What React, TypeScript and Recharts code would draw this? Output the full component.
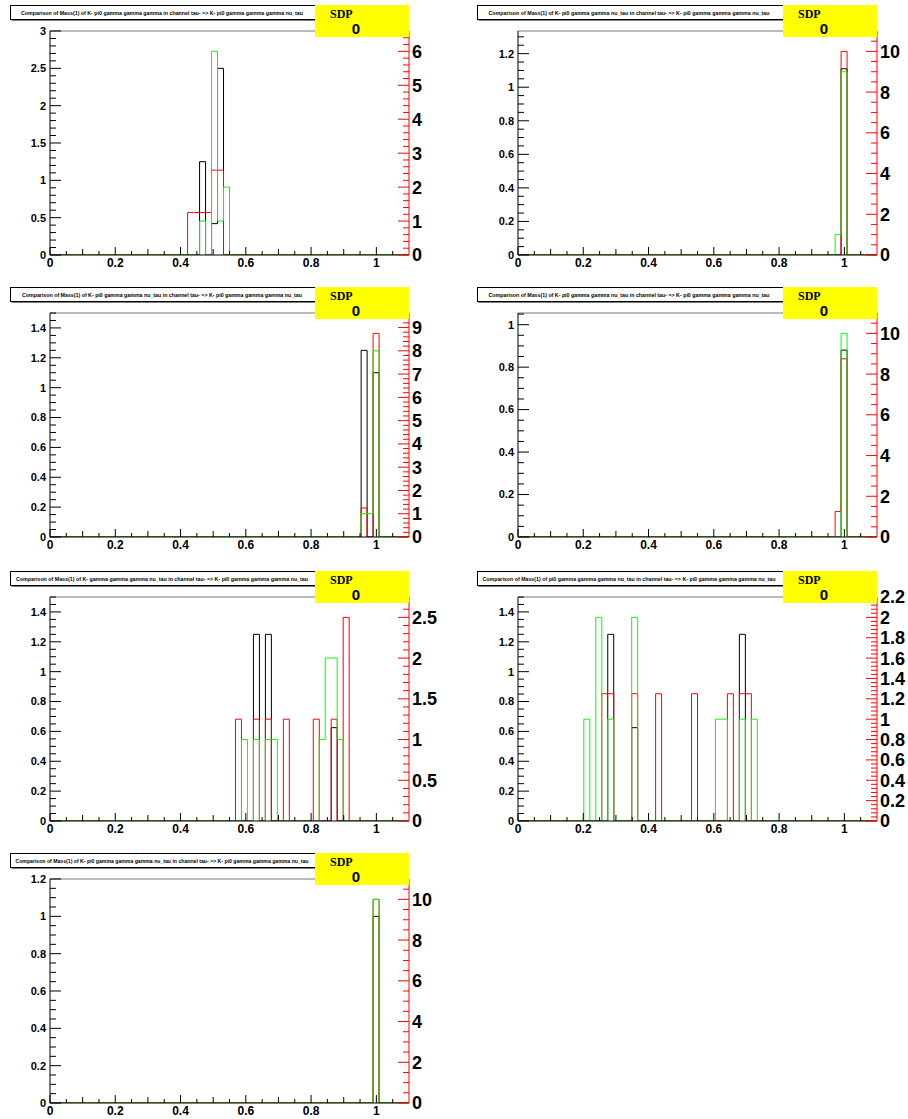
import React from 'react';
import { ComposedChart, Line, XAxis, YAxis, ReferenceLine } from 'recharts';

const NBINS = 60;
const XMAX = 1.1;
const BIN_W = XMAX / NBINS;

// x axis labels, same on every pad
const xLabels = [0, 0.2, 0.4, 0.6, 0.8, 1];

// histogram contents as [bin, value]
// black is read on the left axis, red and green on the right (red) axis
const p1Black = [[25, 1.25], [27, 0.42], [28, 2.5]];
const p1Red = [[23, 1.25], [24, 1.25], [25, 1.25], [26, 1.25], [27, 2.5], [28, 2.5]];
const p1Green = [[25, 1], [27, 6], [28, 1], [29, 2]];

const p2Black = [[54, 1.11]];
const p2Red = [[54, 10]];
const p2Green = [[53, 1], [54, 9]];

const p3Black = [[52, 1.25], [54, 1.1]];
const p3Red = [[52, 1.25], [54, 8.75]];
const p3Green = [[52, 1], [53, 1], [54, 8]];

const p4Black = [[54, 0.88]];
const p4Red = [[53, 1.25], [54, 8.75]];
const p4Green = [[54, 10]];

const p5Black = [[34, 1.25], [36, 1.25], [47, 0.625]];
const p5Red = [[31, 1.25], [34, 1.25], [36, 1.25], [39, 1.25], [44, 1.25], [47, 1.25], [49, 2.5]];
const p5Green = [[32, 1], [34, 1], [36, 1], [37, 1], [45, 1], [46, 2], [47, 2], [48, 1]];

const p6Black = [[15, 1.25], [19, 0.625], [37, 1.25]];
const p6Red = [[14, 1.25], [15, 1.25], [19, 1.25], [23, 1.25], [29, 1.25], [35, 1.25], [37, 1.25], [38, 1.25]];
const p6Green = [[11, 1], [13, 2], [15, 1], [19, 2], [33, 1], [34, 1], [37, 1], [39, 1]];

const p7Black = [[54, 1]];
const p7Red = [[54, 10]];
const p7Green = [[54, 10]];

// axis labels per pad
const leftLabels = [
  [0, 0.5, 1, 1.5, 2, 2.5, 3],
  [0, 0.2, 0.4, 0.6, 0.8, 1, 1.2],
  [0, 0.2, 0.4, 0.6, 0.8, 1, 1.2, 1.4],
  [0, 0.2, 0.4, 0.6, 0.8, 1],
  [0, 0.2, 0.4, 0.6, 0.8, 1, 1.2, 1.4],
  [0, 0.2, 0.4, 0.6, 0.8, 1, 1.2, 1.4],
  [0, 0.2, 0.4, 0.6, 0.8, 1, 1.2],
];
const rightLabels = [
  [0, 1, 2, 3, 4, 5, 6],
  [0, 2, 4, 6, 8, 10],
  [0, 1, 2, 3, 4, 5, 6, 7, 8, 9],
  [0, 2, 4, 6, 8, 10],
  [0, 0.5, 1, 1.5, 2, 2.5],
  [0, 0.2, 0.4, 0.6, 0.8, 1, 1.2, 1.4, 1.6, 1.8, 2, 2.2],
  [0, 2, 4, 6, 8, 10],
];
const leftMax = [3, 1.335, 1.5, 1.055, 1.5, 1.5, 1.2];
const rightMax = [6.6, 11, 9.625, 11, 2.75, 2.2, 11];
const leftMinorStep = [0.1, 0.05, 0.05, 0.05, 0.05, 0.05, 0.05];
const rightMinorStep = [0.2, 0.5, 0.2, 0.5, 0.1, 0.04, 0.5];

const titles = [
  'Comparison of Mass(1) of K- pi0 gamma gamma gamma in channel tau- => K- pi0 gamma gamma gamma nu_tau',
  'Comparison of Mass(1) of K- pi0 gamma gamma nu_tau in channel tau- => K- pi0 gamma gamma gamma nu_tau',
  'Comparison of Mass(1) of K- pi0 gamma gamma nu_tau in channel tau- => K- pi0 gamma gamma gamma nu_tau',
  'Comparison of Mass(1) of K- pi0 gamma gamma nu_tau in channel tau- => K- pi0 gamma gamma gamma nu_tau',
  'Comparison of Mass(1) of K- gamma gamma gamma nu_tau in channel tau- => K- pi0 gamma gamma gamma nu_tau',
  'Comparison of Mass(1) of pi0 gamma gamma gamma nu_tau in channel tau- => K- pi0 gamma gamma gamma nu_tau',
  'Comparison of Mass(1) of K- pi0 gamma gamma gamma nu_tau in channel tau- => K- pi0 gamma gamma gamma nu_tau',
];
// rendered width of each title line (px)
const titleWidth = [282, 281, 280, 281, 292, 293, 293];
const sdpValue = '0';

const hists = [
  [p1Black, p1Red, p1Green],
  [p2Black, p2Red, p2Green],
  [p3Black, p3Red, p3Green],
  [p4Black, p4Red, p4Green],
  [p5Black, p5Red, p5Green],
  [p6Black, p6Red, p6Green],
  [p7Black, p7Red, p7Green],
];

const CELL_W = 454;
const CELL_H = 282;
const cellPos = [[0, 0], [454, 0], [0, 282], [454, 282], [0, 566], [454, 566], [0, 848]];
const FONT = '"Liberation Sans", Arial, Helvetica, sans-serif';

function fillBins(entries: number[][]) {
  const h = new Array(NBINS).fill(0);
  entries.forEach(([b, v]) => (h[b] = v));
  return h;
}

function buildRows(black: number[][], red: number[][], green: number[][]) {
  const b = fillBins(black), r = fillBins(red), g = fillBins(green);
  const rows = [];
  for (let i = 0; i <= NBINS; i++) {
    const k = Math.min(i, NBINS - 1);
    rows.push({ x: i * BIN_W, black: b[k], red: r[k], green: g[k] });
  }
  return rows;
}

function minorTicks(max: number, step: number) {
  const out: number[] = [];
  for (let i = 0; i * step <= max + 1e-9; i++) out.push(Math.round(i * step * 1000) / 1000);
  return out;
}

const findMajor = (v: number, majors: number[]) => majors.find((m) => Math.abs(m - v) < 1e-6);

const xTicks = minorTicks(1.05, 0.05);

function XTick(props: any) {
  const { x, y, payload } = props;
  const v = payload.value;
  const major = findMajor(v, xLabels);
  const tenth = Math.abs(v * 10 - Math.round(v * 10)) < 1e-6;
  const len = major !== undefined ? 8 : tenth ? 6 : 4;
  return (
    <g>
      <line x1={x} x2={x} y1={y} y2={y - len} stroke="#000" />
      {major !== undefined && (
        <text x={x} y={y + 11.5} textAnchor="middle" fontSize={12} fontWeight="bold" fontFamily={FONT} fill="#000">
          {String(major)}
        </text>
      )}
    </g>
  );
}

function makeLeftTick(majors: number[]) {
  return (props: any) => {
    const { x, y, payload } = props;
    const major = findMajor(payload.value, majors);
    return (
      <g>
        <line x1={x} x2={x + (major !== undefined ? 11 : 6)} y1={y} y2={y} stroke="#000" />
        {major !== undefined && (
          <text x={x - 4} y={y} dy="0.35em" textAnchor="end" fontSize={11} fontWeight="bold" fontFamily={FONT} fill="#000">
            {String(major)}
          </text>
        )}
      </g>
    );
  };
}

function makeRightTick(majors: number[]) {
  return (props: any) => {
    const { x, y, payload } = props;
    const major = findMajor(payload.value, majors);
    return (
      <g>
        <line x1={x} x2={x - (major !== undefined ? 11 : 6)} y1={y} y2={y} stroke="#ff0000" />
        {major !== undefined && (
          <text x={x + 3} y={y} dy="0.36em" textAnchor="start" fontSize={18} fontWeight="bold" fontFamily={FONT} fill="#000">
            {String(major)}
          </text>
        )}
      </g>
    );
  };
}

function Pad({ idx }: { idx: number }) {
  const [cx, cy] = cellPos[idx];
  const leftCol = cx === 0;
  const leftW = leftCol ? 50 : 64;
  const rightW = leftCol ? 45 : 31;
  const [black, red, green] = hists[idx];
  const rows = buildRows(black, red, green);
  const titleX = leftCol ? 10 : 23;
  const sdpX = leftCol ? 315 : 329;

  return (
    <div style={{ position: 'absolute', left: cx, top: cy, width: CELL_W, height: CELL_H }}>
      <ComposedChart width={CELL_W} height={CELL_H} data={rows} margin={{ top: 31, right: 0, bottom: 0, left: 0 }}>
        <XAxis
          type="number"
          dataKey="x"
          domain={[0, XMAX]}
          allowDataOverflow
          ticks={xTicks}
          interval={0}
          tickSize={0}
          tickMargin={0}
          height={27}
          axisLine={{ stroke: '#000' }}
          tickLine={false}
          tick={XTick}
        />
        <YAxis
          yAxisId="L"
          orientation="left"
          type="number"
          domain={[0, leftMax[idx]]}
          allowDataOverflow
          ticks={minorTicks(leftMax[idx], leftMinorStep[idx])}
          interval={0}
          tickSize={0}
          tickMargin={0}
          width={leftW}
          axisLine={{ stroke: '#000' }}
          tickLine={false}
          tick={makeLeftTick(leftLabels[idx])}
        />
        <YAxis
          yAxisId="R"
          orientation="right"
          type="number"
          domain={[0, rightMax[idx]]}
          allowDataOverflow
          ticks={minorTicks(rightMax[idx], rightMinorStep[idx])}
          interval={0}
          tickSize={0}
          tickMargin={0}
          width={rightW}
          axisLine={{ stroke: '#ff0000' }}
          tickLine={false}
          tick={makeRightTick(rightLabels[idx])}
        />
        <ReferenceLine yAxisId="L" y={leftMax[idx]} stroke="#777" />
        <Line yAxisId="L" dataKey="black" type="stepAfter" stroke="#000" strokeWidth={1} dot={false} isAnimationActive={false} />
        <Line yAxisId="R" dataKey="red" type="stepAfter" stroke="#ff0000" strokeWidth={1} dot={false} isAnimationActive={false} />
        <Line yAxisId="R" dataKey="green" type="stepAfter" stroke="#00ff00" strokeWidth={1} dot={false} isAnimationActive={false} />
      </ComposedChart>

      {/* title pave */}
      <svg
        width={316}
        height={16}
        style={{ position: 'absolute', left: titleX, top: 5, overflow: 'visible' }}
      >
        <rect x={1.5} y={1.5} width={314} height={14} fill="#000" />
        <rect x={0.5} y={0.5} width={314} height={14} fill="#fff" stroke="#000" />
        <text
          x={152}
          y={9.5}
          textAnchor="middle"
          textLength={titleWidth[idx]}
          lengthAdjust="spacingAndGlyphs"
          fontFamily={FONT}
          fontWeight="bold"
          fontSize={5.6}
          fill="#000"
        >
          {titles[idx]}
        </text>
      </svg>

      {/* SDP box */}
      <div style={{ position: 'absolute', left: sdpX, top: 5, width: 94, height: 32, background: '#ffff00' }}>
        <div
          style={{
            position: 'absolute',
            left: 15,
            top: 2,
            fontFamily: '"Liberation Serif", "Times New Roman", serif',
            fontWeight: 'bold',
            fontSize: 12,
            color: '#000',
          }}
        >
          SDP
        </div>
        <div
          style={{
            position: 'absolute',
            left: 30,
            width: 22,
            top: 15,
            textAlign: 'center',
            fontFamily: FONT,
            fontWeight: 'bold',
            fontSize: 15,
            color: '#000',
          }}
        >
          {sdpValue}
        </div>
      </div>
    </div>
  );
}

export default function App() {
  return (
    <div style={{ position: 'absolute', left: 0, top: 0, width: 908, height: 1119, overflow: 'hidden', background: '#fff' }}>
      {hists.map((_, i) => (
        <Pad key={i} idx={i} />
      ))}
    </div>
  );
}
